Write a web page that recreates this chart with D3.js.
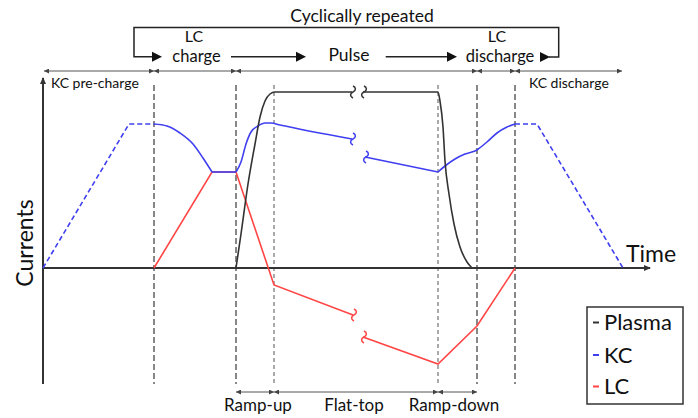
<!DOCTYPE html>
<html><head><meta charset="utf-8">
<script src="https://cdn.jsdelivr.net/npm/d3@7"></script>
<style>
body{margin:0;background:#fff}
svg{display:block}
text{font-family:Lato,"Open Sans",sans-serif;fill:#111}
</style>
</head><body>
<svg id="chart" width="698" height="418"></svg>
<script>
// ---------------- data (time units, current units) ----------------
const seriesNames = ["Plasma", "KC", "LC"];

// Plasma current
const plasmaRise = [[193,0],[198,34],[205,84],[212,124],[217,151],[222,167],[227,174],[232,176],[309,176]];
const plasmaFall = [[320,176],[395,176],[397,167],[400,141],[402,107],[406,74],[411,44],[417,21],[424,6],[429,0]];

// KC current
const kcPreCharge = [[0,0],[86,144],[111,144]];                       // dashed
const kcCharge    = [[111,144],[124,142],[137,135],[150,124],[160,110],[169,96]];
const kcHold      = [[169,96],[193,96]];
const kcRampUp    = [[193,96],[198,106],[203,124],[208,136],[215,142],[222,145],[228,145],[237,143],[309,129]];
const kcFlatTopB  = [[322,111],[395,96]];
const kcRampDown  = [[395,96],[402,102],[412,109],[422,114],[432,117],[434,118]];
const kcLcDisch   = [[434,118],[444,126],[454,135],[464,141],[472,144]];
const kcDischarge = [[472,144],[494,144],[580,0]];                     // dashed

// LC current
const lcChargeA = [[111,0],[169,96],[193,96],[231,-17],[310,-47]];
const lcChargeB = [[320,-69],[395,-96],[434,-58],[472,0]];

// phase boundaries
const phaseLines    = [111, 193, 434, 472];
const subPhaseLines = [231, 395];
const topSpanStops    = [1, 111, 193, 434, 472, 579];
const bottomSpanStops = [193, 231, 395, 434];
const bottomSpanLabels = ["Ramp-up", "Flat-top", "Ramp-down"];
const bottomLabelPos   = [215, 311, 411];

// ---------------- drawing ----------------
const svg = d3.select("#chart");
const x = d3.scaleLinear().domain([0, 607]).range([43, 650]);
const y = d3.scaleLinear().domain([-116, 188]).range([384, 80]);

const colors = {Plasma: "#333333", KC: "#3f3ff0", LC: "#ff4545"};

const defs = svg.append("defs");
function marker(id, w, h, refX, color) {
  defs.append("marker").attr("id", id)
    .attr("viewBox", `0 ${-h/2} ${w} ${h}`)
    .attr("refX", refX).attr("refY", 0)
    .attr("markerWidth", w).attr("markerHeight", h)
    .attr("markerUnits", "userSpaceOnUse")
    .attr("orient", "auto-start-reverse")
    .append("path").attr("d", `M0,${-h/2}L${w},0L0,${h/2}Z`).attr("fill", color);
}
marker("tiny", 5, 5, 5, "#444");
marker("axisHead", 7, 6, 6, "#333");

// dashed phase lines
svg.append("g").selectAll("line").data(phaseLines).join("line")
  .attr("x1", d => x(d)).attr("x2", d => x(d))
  .attr("y1", y(183)).attr("y2", y(-116))
  .attr("stroke", "#555").attr("stroke-width", 1.4).attr("stroke-dasharray", "6,3");
svg.append("g").selectAll("line").data(subPhaseLines).join("line")
  .attr("x1", d => x(d)).attr("x2", d => x(d))
  .attr("y1", y(183)).attr("y2", y(-116))
  .attr("stroke", "#555").attr("stroke-width", 1).attr("stroke-dasharray", "4,3");

// axes
svg.append("line").attr("x1", x(0)).attr("x2", x(0)).attr("y1", y(-116)).attr("y2", y(190))
  .attr("stroke", "#333").attr("stroke-width", 2).attr("marker-end", "url(#axisHead)");
svg.append("line").attr("x1", x(0)).attr("x2", x(607)).attr("y1", y(0)).attr("y2", y(0))
  .attr("stroke", "#333").attr("stroke-width", 2).attr("marker-end", "url(#axisHead)");

// series
const lineLin = d3.line().x(d => x(d[0])).y(d => y(d[1]));
const lineCur = d3.line().x(d => x(d[0])).y(d => y(d[1])).curve(d3.curveMonotoneX);

function draw(data, color, gen, dashed) {
  svg.append("path").attr("d", gen(data)).attr("fill", "none")
    .attr("stroke", color).attr("stroke-width", 1.6)
    .attr("stroke-dasharray", dashed ? "5,3" : null);
}
function squiggle(pt, color) {
  const px = x(pt[0]) + 1, py = y(pt[1]);
  svg.append("path")
    .attr("d", `M${px},${py-6}c3.2,1.5 3.2,4.5 0,6c-3.2,1.5 -3.2,4.5 0,6`)
    .attr("fill", "none").attr("stroke", color).attr("stroke-width", 1.5);
}

// LC
draw(lcChargeA, colors.LC, lineLin, false);
draw(lcChargeB, colors.LC, lineLin, false);
squiggle(lcChargeA[lcChargeA.length-1], colors.LC);
squiggle(lcChargeB[0], colors.LC);

// KC
draw(kcPreCharge, colors.KC, lineLin, true);
draw(kcCharge, colors.KC, lineCur, false);
draw(kcHold, colors.KC, lineLin, false);
draw(kcRampUp, colors.KC, lineCur, false);
draw(kcFlatTopB, colors.KC, lineLin, false);
draw(kcRampDown, colors.KC, lineCur, false);
draw(kcLcDisch, colors.KC, lineCur, false);
draw(kcDischarge, colors.KC, lineLin, true);
squiggle(kcRampUp[kcRampUp.length-1], colors.KC);
squiggle(kcFlatTopB[0], colors.KC);

// Plasma
draw(plasmaRise, colors.Plasma, lineCur, false);
draw(plasmaFall, colors.Plasma, lineCur, false);
squiggle(plasmaRise[plasmaRise.length-1], colors.Plasma);
squiggle(plasmaFall[0], colors.Plasma);

// phase span arrows (top row and bottom row)
const topRowY = 71, bottomRowY = 392;
svg.append("g").selectAll("line").data(d3.pairs(topSpanStops)).join("line")
  .attr("x1", d => x(d[0])).attr("x2", d => x(d[1]))
  .attr("y1", topRowY).attr("y2", topRowY)
  .attr("stroke", "#555").attr("stroke-width", 1)
  .attr("marker-start", "url(#tiny)").attr("marker-end", "url(#tiny)");
svg.append("g").selectAll("line").data(d3.pairs(bottomSpanStops)).join("line")
  .attr("x1", d => x(d[0])).attr("x2", d => x(d[1]))
  .attr("y1", bottomRowY).attr("y2", bottomRowY)
  .attr("stroke", "#555").attr("stroke-width", 1)
  .attr("marker-start", "url(#tiny)").attr("marker-end", "url(#tiny)");
svg.append("g").selectAll("text").data(bottomSpanLabels).join("text")
  .attr("x", (d, i) => x(bottomLabelPos[i])).attr("y", 410.5)
  .attr("text-anchor", "middle").attr("font-size", 17).text(d => d);

// top labels
svg.append("text").attr("x", x(8)).attr("y", 88).attr("font-size", 14).text("KC pre-charge");
svg.append("text").attr("x", x(486)).attr("y", 88).attr("font-size", 14).text("KC discharge");

// cyclic bracket
const br = svg.append("g").attr("stroke", "#222").attr("stroke-width", 1.5).attr("fill", "none");
br.append("path").attr("d", "M152,56.7H134V27.5H558.7V57H549");
br.append("path").attr("d", "M231,56.7H297");
br.append("path").attr("d", "M385.7,56.7H448");
const tri = svg.append("g").attr("fill", "#111");
tri.append("path").attr("d", "M152,51.7L162,56.7L152,61.7Z");
tri.append("path").attr("d", "M296,51.7L306,56.7L296,61.7Z");
tri.append("path").attr("d", "M447,51.7L457,56.7L447,61.7Z");
tri.append("path").attr("d", "M540,52L550,57L540,62Z");

svg.append("text").attr("x", 362).attr("y", 22).attr("text-anchor", "middle").attr("font-size", 17.5).text("Cyclically repeated");
svg.append("text").attr("x", x(151)).attr("y", 41.5).attr("text-anchor", "middle").attr("font-size", 16).text("LC");
svg.append("text").attr("x", x(153.5)).attr("y", 61.5).attr("text-anchor", "middle").attr("font-size", 16.5).text("charge");
svg.append("text").attr("x", x(306)).attr("y", 61).attr("text-anchor", "middle").attr("font-size", 17.5).text("Pulse");
svg.append("text").attr("x", x(454)).attr("y", 41.5).attr("text-anchor", "middle").attr("font-size", 16).text("LC");
svg.append("text").attr("x", x(457)).attr("y", 61.5).attr("text-anchor", "middle").attr("font-size", 16.5).text("discharge");

// axis titles
svg.append("text").attr("x", 626).attr("y", 262).attr("font-size", 23).text("Time");
svg.append("text").attr("transform", "translate(33,243) rotate(-90)")
  .attr("text-anchor", "middle").attr("font-size", 23).text("Currents");

// legend
const lg = svg.append("g");
lg.append("rect").attr("x", 587).attr("y", 307).attr("width", 96).attr("height", 97)
  .attr("fill", "#fff").attr("stroke", "#333").attr("stroke-width", 1.5);
const legendBase = [330, 362.5, 394];
seriesNames.forEach((name, i) => {
  lg.append("line").attr("x1", 593).attr("x2", 599)
    .attr("y1", legendBase[i] - 7.5).attr("y2", legendBase[i] - 7.5)
    .attr("stroke", colors[name]).attr("stroke-width", 2);
  lg.append("text").attr("x", 604).attr("y", legendBase[i]).attr("font-size", 22).text(name);
});
</script>
</body></html>
